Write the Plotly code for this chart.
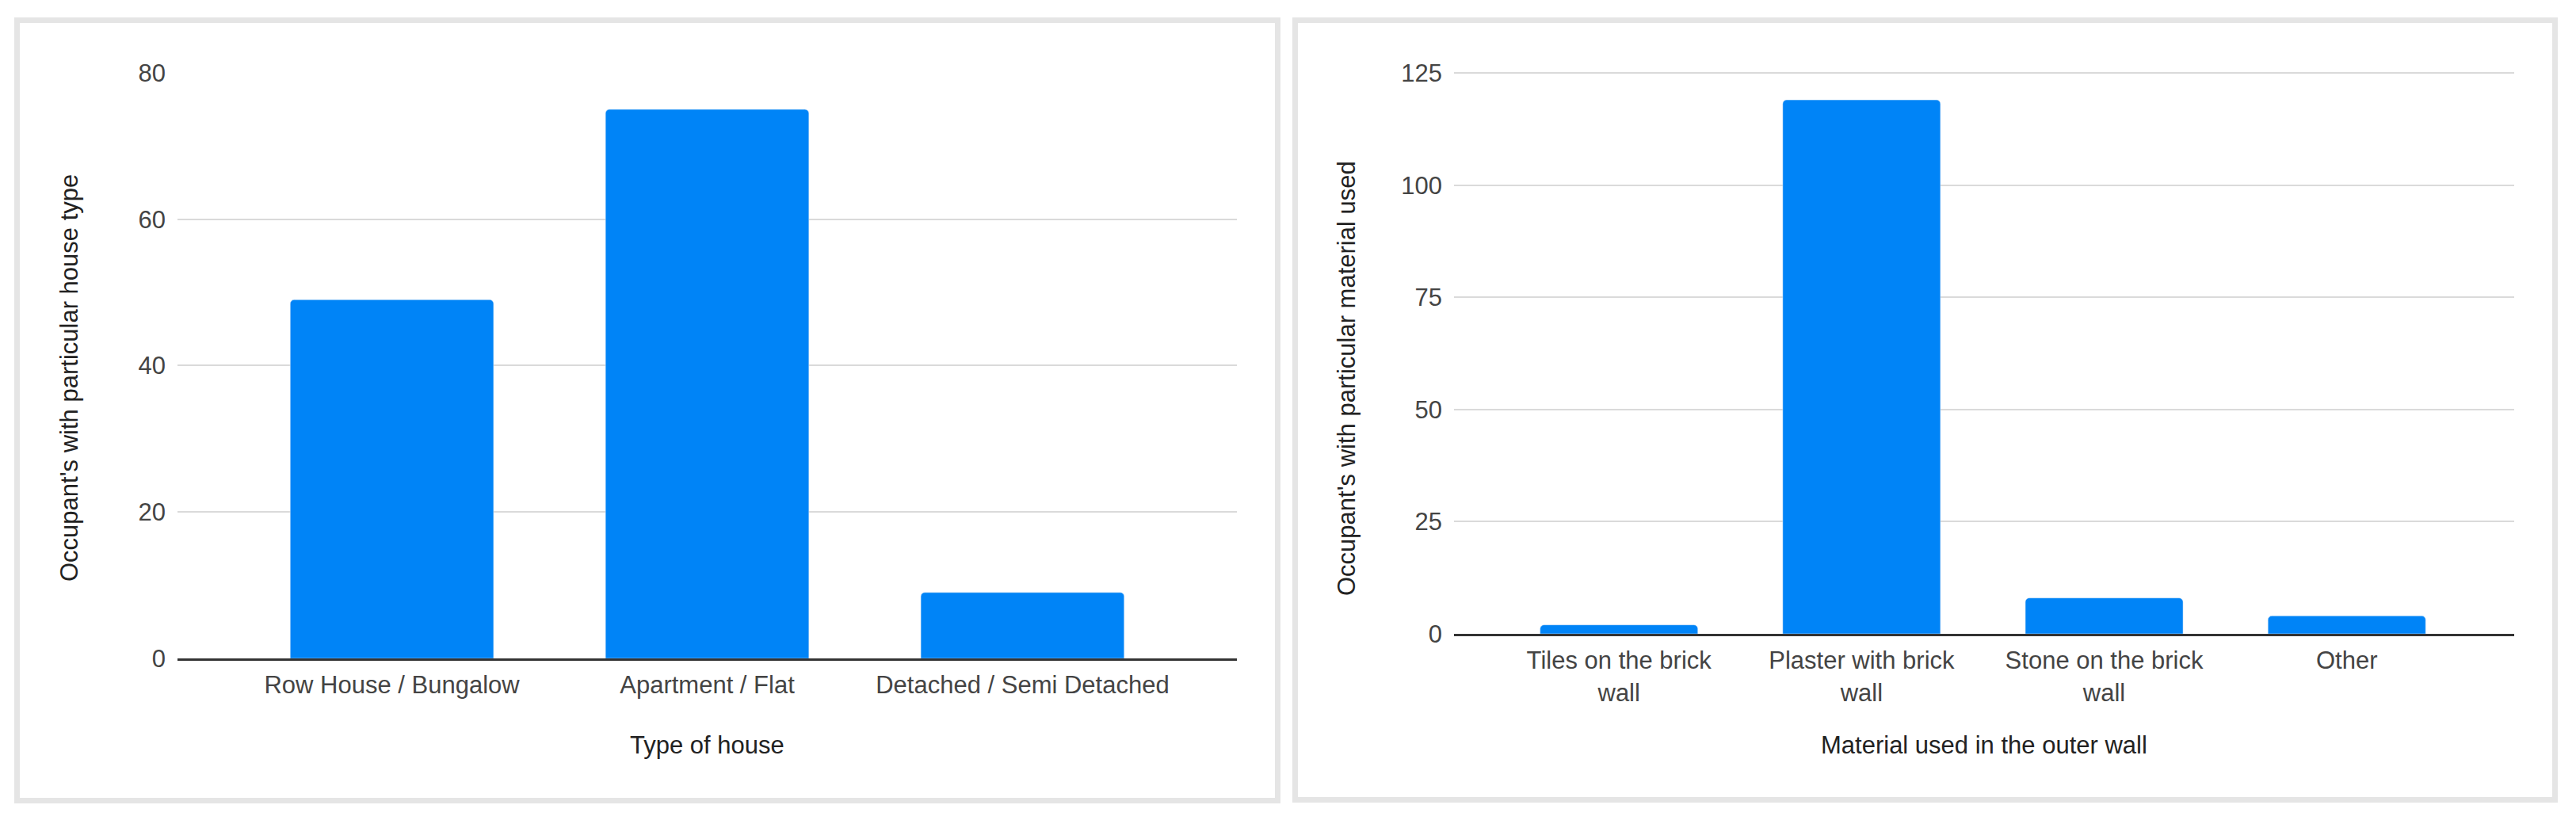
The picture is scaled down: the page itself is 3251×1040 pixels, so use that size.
import plotly.graph_objects as go
from plotly.subplots import make_subplots

# data
house_types = ["Row House / Bungalow", "Apartment / Flat", "Detached / Semi Detached"]
house_counts = [49, 75, 9]

wall_materials = ["Tiles on the brick<br>wall", "Plaster with brick<br>wall",
                  "Stone on the brick<br>wall", "Other"]
wall_counts = [2, 119, 8, 4]

house_ticks = [0, 20, 40, 60, 80]
wall_ticks = [0, 25, 50, 75, 100, 125]

W, H = 3251, 1040
PAGE_OFFSET = 8  # default body margin of the html page
BAR = "#0084F7"
FONT = "Arial, Liberation Sans, sans-serif"


def px(x):
    return (x - PAGE_OFFSET) / W


def py(y):
    return 1 - (y - PAGE_OFFSET) / H


fig = make_subplots(rows=1, cols=2)

fig.add_trace(go.Bar(x=house_types, y=house_counts, marker_color=BAR,
                     marker_cornerradius=5, width=0.645), row=1, col=1)
fig.add_trace(go.Bar(x=wall_materials, y=wall_counts, marker_color=BAR,
                     marker_cornerradius=5, width=0.65), row=1, col=2)

tick_font = dict(family=FONT, size=31, color="#444444")
fig.update_xaxes(tickfont=tick_font, showgrid=False, showline=True, linecolor="#333333",
                 linewidth=3, ticks="", ticklabelstandoff=4, automargin=False)
fig.update_yaxes(tickfont=tick_font, showline=False, showgrid=True, gridcolor="#dadada",
                 gridwidth=2, zeroline=False, ticks="", ticklabelstandoff=14, automargin=False)

# plot areas placed to match the reference (top slightly above top tick so its gridline shows)
fig.update_xaxes(domain=[px(224), px(1561)], range=[-0.68, 2.68], row=1, col=1)
fig.update_yaxes(domain=[py(831), py(91)], range=[0, 80.1], tickvals=house_ticks, row=1, col=1)
fig.update_xaxes(domain=[px(1835), px(3173)], range=[-0.68, 3.69], row=1, col=2)
fig.update_yaxes(domain=[py(800), py(91)], range=[0, 125.2], tickvals=wall_ticks, row=1, col=2)

title_font = dict(family=FONT, size=31, color="#222222")
annotations = [
    dict(text="Type of house", x=px(892), y=py(940)),
    dict(text="Occupant's with particular house type", x=px(88), y=py(477), textangle=-90),
    dict(text="Material used in the outer wall", x=px(2504), y=py(940)),
    dict(text="Occupant's with particular material used", x=px(1700), y=py(478), textangle=-90),
]
for a in annotations:
    fig.add_annotation(xref="paper", yref="paper", showarrow=False, font=title_font,
                       xanchor="center", yanchor="middle", **a)

# light grey frames around each chart
border = dict(type="rect", xref="paper", yref="paper",
              line=dict(color="#e5e5e5", width=7), fillcolor="rgba(0,0,0,0)", layer="below")
fig.add_shape(x0=px(21.5), x1=px(1612.5), y0=py(1010.5), y1=py(25.5), **border)
fig.add_shape(x0=px(1634.5), x1=px(3224.5), y0=py(1009.5), y1=py(25.5), **border)

fig.update_layout(
    width=W, height=H,
    margin=dict(l=0, r=0, t=0, b=0, autoexpand=False),
    paper_bgcolor="white", plot_bgcolor="white",
    showlegend=False,
    font=dict(family=FONT),
)

fig.write_html("out.html")
